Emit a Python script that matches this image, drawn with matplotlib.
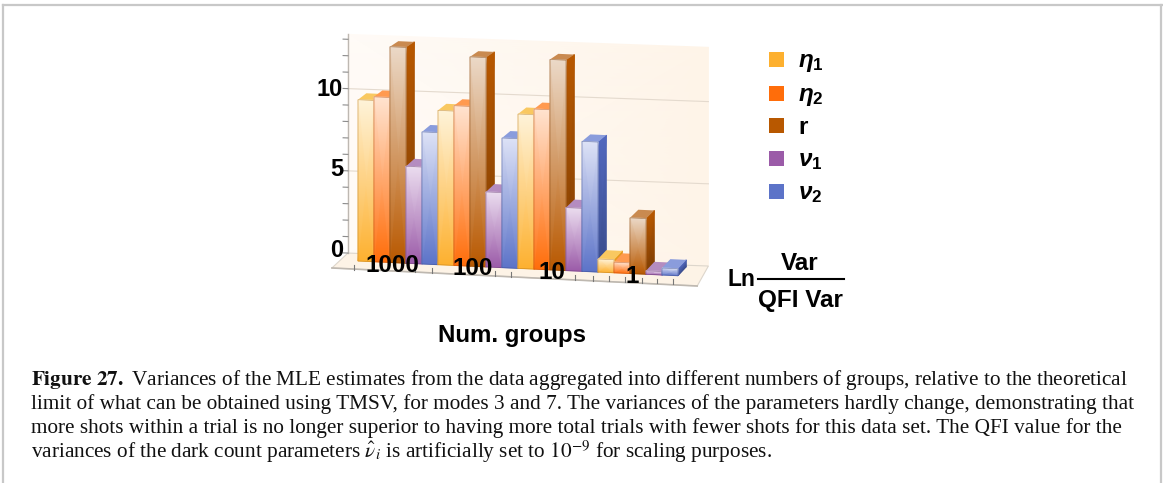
import numpy as np
import matplotlib
matplotlib.use('Agg')
import matplotlib.pyplot as plt
from matplotlib.colors import LinearSegmentedColormap
from matplotlib.patches import Polygon, Rectangle
from matplotlib.transforms import Affine2D

W, H = 1163, 483

# Values
groups = ['1000', '100', '10', '1']
names = [r'$\eta_1$', r'$\eta_2$', r'$\mathrm{r}$', r'$\nu_1$', r'$\nu_2$']
eta1 = [9.27, 8.87, 8.87, 0.75]
eta2 = [9.48, 9.18, 9.20, 0.61]
r = [12.40, 12.03, 12.09, 3.20]
v1 = [5.57, 4.31, 3.62, 0.20]
v2 = [7.59, 7.45, 7.47, 0.40]
series = [eta1, eta2, r, v1, v2]
yticks = list(range(0, 14))
ylabels = [0, 5, 10]

colors = ['#FDB02F', '#FF6D0A', '#B85800', '#9B5BA8', '#5C73C8']
pale = ['#FEF3D9', '#FFE3D0', '#EBD9C8', '#EBDDEF', '#DDE2F6']
side_top = ['#F0A020', '#F06008', '#B85800', '#8E4F9C', '#5268BE']
side_bot = ['#B87818', '#B84C08', '#7E3E04', '#683A74', '#3A4C8C']
lid = ['#F9C860', '#FF9A50', '#C98A50', '#B48CC0', '#8A9CDC']

plt.rcParams['font.family'] = ['Liberation Sans']
plt.rcParams['mathtext.fontset'] = 'custom'
plt.rcParams['mathtext.rm'] = 'Liberation Sans:bold'
plt.rcParams['mathtext.it'] = 'Liberation Sans:italic:bold'
plt.rcParams['mathtext.bf'] = 'Liberation Sans:bold'

fig = plt.figure(figsize=(W / 100, H / 100), dpi=100)
ax = fig.add_axes([0, 0, 1, 1])

# one slot = one bar, 16 px wide; one unit of value = 17.4 px at the front
sx, sy = 16.0, 17.4
x0, y0 = 358.0, 261.0
tilt = 0.046 * sx / sy
tr = Affine2D.from_values(1, -tilt, 0, 1, 0, 0) + ax.transData
depth_x = 0.52


def depth_y(h):
    # lids of short bars are seen more from above
    return 0.54 - 0.016 * h


def fx(px):
    return px / W


def fy(py):
    return 1 - py / H


def wall(slot, v):
    return slot, 0.43 + 0.945 * v + 0.0092 * (slot + 0.63)


def poly(pts, **kw):
    ax.add_patch(Polygon(pts, closed=True, transform=tr, **kw))


# frame of the page
for xs, ys in [((3, 3), (483, 5)), ((3, 1163), (5, 5)), ((1161, 1161), (5, 483))]:
    fig.add_artist(plt.Line2D([fx(p) for p in xs], [fy(p) for p in ys], color='#C8C8C8', lw=1.6))

# back wall and floor
left, right = -0.63, 21.9
top_v = 13.3
wall_cmap = LinearSegmentedColormap.from_list('w', ['#FFFBF7', '#FEF4E8'])
c = [wall(left, 0), wall(right, 0), wall(left, top_v), wall(right, top_v)]
ax.pcolormesh(np.array([[c[0][0], c[1][0]], [c[2][0], c[3][0]]]),
              np.array([[c[0][1], c[1][1]], [c[2][1], c[3][1]]]),
              np.array([[0, 1], [0, 1]]), shading='gouraud', cmap=wall_cmap,
              vmin=0, vmax=1, transform=tr, zorder=1)
front = [(-1.63, -0.47), (21.2, -0.54)]
poly([front[0], front[1], wall(right, 0), wall(left, 0)],
     fc='#FDF3E6', ec='#DDD6CC', lw=0.8, zorder=1.1)
for v in [5, 10]:
    a, b = wall(left, v), wall(right, v)
    ax.plot([a[0], b[0]], [a[1], b[1]], color='#E4DACE', lw=0.8, transform=tr, zorder=1.2)
a, b = wall(left, 0), wall(left, top_v)
ax.plot([a[0], b[0]], [a[1], b[1]], color='#BDB8B2', lw=1, transform=tr, zorder=1.3)
for v in yticks:
    a, b = wall(left - 0.3, v), wall(left, v)
    ax.plot([a[0], b[0]], [a[1], b[1]], color='#8C8C8C', lw=0.8, transform=tr, zorder=1.3)
ax.plot([p[0] for p in front], [p[1] for p in front], color='#BEB8B0', lw=1.2, transform=tr, zorder=1.3)

# ticks along the front edge of the floor
floor_ticks = [-0.25, 3.56, 4.6, 8.56, 9.56, 13.56, 14.7, 15.7, 16.7, 17.75, 18.7, 19.7]
for t in floor_ticks:
    ax.plot([t, t], [-0.5, -0.22], color='#777777', lw=0.8, transform=tr, zorder=1.4)

# the bars, painted from left to right
z = 2.0
for g in range(len(groups)):
    for s in range(len(series)):
        h = series[s][g]
        x = g * 5 + s
        d = depth_y(h)
        fcmap = LinearSegmentedColormap.from_list('f', [colors[s], pale[s]])
        scmap = LinearSegmentedColormap.from_list('s', [side_bot[s], side_top[s]])
        ax.pcolormesh(np.array([[x + 1, x + 1 + depth_x], [x + 1, x + 1 + depth_x]]),
                      np.array([[0, depth_y(0)], [h, h + d]]),
                      np.array([[0, 0], [1, 1]]), shading='gouraud', cmap=scmap,
                      vmin=0, vmax=1, transform=tr, zorder=z)
        poly([(x, h), (x + 1, h), (x + 1 + depth_x, h + d), (x + depth_x, h + d)],
             fc=lid[s], ec='none', zorder=z + 0.1)
        ax.pcolormesh(np.array([[x, x + 1], [x, x + 1]]),
                      np.array([[0, 0], [h, h]]),
                      np.array([[0, 0], [1, 1]]), shading='gouraud', cmap=fcmap,
                      vmin=0, vmax=1, transform=tr, zorder=z + 0.2)
        ax.add_patch(Rectangle((x, 0), 1, h, fc='none', ec=side_bot[s], lw=0.5, alpha=0.6,
                               transform=tr, zorder=z + 0.3))
        z += 0.5

# group labels sit on top of the bars
for g, lab in enumerate(groups):
    ax.text(g * 5 + 2.15, -0.15, lab, fontsize=17.5, fontweight='bold', ha='center', va='center',
            transform=tr, zorder=50)

for v in ylabels:
    p = wall(left - 0.3, v)
    ax.text(p[0], p[1] + 0.15 - 0.022 * v, str(v), fontsize=17, fontweight='bold', ha='right',
            va='center', transform=tr, zorder=50)

ax.set_xlim(-x0 / sx, (W - x0) / sx)
ax.set_ylim((y0 - H) / sy, y0 / sy)
ax.axis('off')

# legend
legend_y = [59.5, 93, 125.5, 158.5, 191.5]
for name, col, ly in zip(names, colors, legend_y):
    fig.add_artist(Rectangle((fx(769), fy(ly + 7.5)), 15 / W, 15 / H, fc=col, ec='none',
                             transform=fig.transFigure))
    fig.text(fx(798), fy(ly + 8), name, fontsize=17.5, ha='left', va='baseline')

# axis labels
fig.text(fx(511.5), fy(335.5), 'Num. groups', fontsize=17.3, fontweight='bold', ha='center', va='center')
fig.text(fx(727), fy(280), 'Ln', fontsize=16.5, fontweight='bold', ha='left', va='center')
fig.text(fx(800), fy(263.5), 'Var', fontsize=17.5, fontweight='bold', ha='center', va='center')
fig.text(fx(800), fy(301), 'QFI Var', fontsize=17.5, fontweight='bold', ha='center', va='center')
fig.add_artist(plt.Line2D([fx(758), fx(844)], [fy(279), fy(279)], color='black', lw=1.5))

# caption
caption = [
    r'$\mathbf{Figure\ 27.}$ Variances of the MLE estimates from the data aggregated into different numbers of groups, relative to the theoretical',
    'limit of what can be obtained using TMSV, for modes 3 and 7. The variances of the parameters hardly change, demonstrating that',
    'more shots within a trial is no longer superior to having more total trials with fewer shots for this data set. The QFI value for the',
    r'variances of the dark count parameters $\hat{\nu}_i$ is artificially set to $10^{-9}$ for scaling purposes.',
]
baselines = [385, 409, 433, 458]
for line, by in zip(caption, baselines):
    fig.text(fx(31), fy(by), line, family='Liberation Serif', fontsize=15.3, color='#111111',
             ha='left', va='baseline', math_fontfamily='stix')

fig.savefig('out.png', dpi=100)
